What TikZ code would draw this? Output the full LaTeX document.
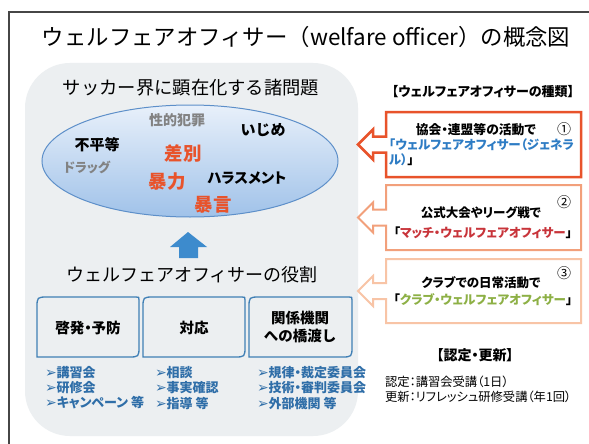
\documentclass[tikz,border=0pt]{standalone}
\usepackage{fontspec}
\setmainfont{Noto Sans CJK JP}
\newfontfamily\jpp{Noto Sans CJK JP}[RawFeature=+palt]
\newfontfamily\dvs{DejaVu Sans}
\newcommand\myfs[1]{\fontsize{#1}{#1}\selectfont}
\newcommand\bul{{\dvs\myfs{14}➢}}
\definecolor{bggray}{RGB}{236,239,241}
\definecolor{framec}{RGB}{70,70,70}
\definecolor{redc}{RGB}{232,83,43}
\definecolor{or2}{RGB}{242,160,123}
\definecolor{or3}{RGB}{248,196,166}
\definecolor{bluet}{RGB}{46,124,196}
\definecolor{crim}{RGB}{200,52,58}
\definecolor{greent}{RGB}{141,176,69}
\definecolor{listb}{RGB}{47,110,168}
\definecolor{boxb}{RGB}{63,127,181}
\definecolor{arrowb}{RGB}{61,139,205}
\definecolor{elltop}{RGB}{232,240,250}
\definecolor{ellbot}{RGB}{160,194,233}
\definecolor{ellbd}{RGB}{93,143,201}
\definecolor{grayt}{RGB}{130,130,130}
\tikzset{
  lbl/.style={inner sep=0pt, outer sep=0pt},
  rolebox/.style={draw=boxb, line width=1.3pt, fill=bggray},
  callout/.style={fill=white, line width=#1},
  listitem/.style={lbl, anchor=west, text=listb, font=\jpp\bfseries\myfs{13}},
}
\begin{document}
\begin{tikzpicture}[x=1pt,y=-1pt]
\useasboundingbox (0,0) rectangle (589,444);
\fill[white] (0,0) rectangle (589,444);
\draw[framec, line width=1.4pt] (9,444) -- (9,12) -- (589,12);
% title
\node[lbl] (title) at (306,37) {\myfs{22.4}ウェルフェアオフィサー（welfare officer）の概念図};
% grey panel
\fill[bggray, rounded corners=45pt] (25,63) rectangle (358,436);
\node[lbl] (sub1) at (191,88) {\myfs{18.3}サッカー界に顕在化する諸問題};
% ellipse
\shade[top color=elltop, bottom color=ellbot] (190,161) ellipse (148 and 56);
\draw[ellbd, line width=1pt] (190,161) ellipse (148 and 56);
\node[lbl, text=grayt] (e1) at (177,120) {\bfseries\myfs{14}性的犯罪};
\node[lbl] (e2) at (263,130) {\bfseries\myfs{15}いじめ};
\node[lbl] (e3) at (97,145) {\bfseries\myfs{15}不平等};
\node[lbl, text=grayt] (e4) at (87,167) {\jpp\bfseries\myfs{13}ドラッグ};
\node[lbl, text=redc] (e5) at (183,153) {\bfseries\myfs{18.5}差別};
\node[lbl, text=redc] (e6) at (167,182) {\bfseries\myfs{18.5}暴力};
\node[lbl] (e7) at (247,178) {\jpp\bfseries\myfs{14.5}ハラスメント};
\node[lbl, text=redc] (e8) at (213,205) {\bfseries\myfs{18.5}暴言};
% blue up arrow
\fill[arrowb] (188,232) -- (207,247) -- (198,247) -- (198,258) -- (179,258) -- (179,247) -- (170,247) -- cycle;
\node[lbl] (sub2) at (192,275) {\myfs{18}ウェルフェアオフィサーの役割};
% role boxes
\draw[rolebox] (37,357) -- (37,308) .. controls (37,297) .. (48,297) -- (136,297) .. controls (139,297) .. (139,300) -- (139,346) .. controls (139,357) .. (128,357) -- cycle;
\draw[rolebox] (143,357) -- (143,308) .. controls (143,297) .. (154,297) -- (242,297) .. controls (245,297) .. (245,300) -- (245,346) .. controls (245,357) .. (234,357) -- cycle;
\draw[rolebox] (249,357) -- (249,308) .. controls (249,297) .. (260,297) -- (349,297) .. controls (352,297) .. (352,300) -- (352,346) .. controls (352,357) .. (341,357) -- cycle;
\node[lbl] (r1) at (88,328) {\jpp\bfseries\myfs{14.5}啓発・予防};
\node[lbl] (r2) at (194,328) {\jpp\bfseries\myfs{14.5}対応};
\node[lbl, align=center] (r3) at (300,327) {\bfseries\myfs{14.5}関係機関\\[3pt]\bfseries\myfs{14.5}への橋渡し};
% lists
\node[listitem] (l11) at (45,373) {\bul 講習会};
\node[listitem] (l12) at (45,388) {\bul 研修会};
\node[listitem] (l13) at (45,403) {\bul キャンペーン 等};
\node[listitem] (l21) at (155,373) {\bul 相談};
\node[listitem] (l22) at (155,388) {\bul 事実確認};
\node[listitem] (l23) at (155,403) {\bul 指導 等};
\node[listitem] (l31) at (257,373) {\bul 規律・裁定委員会};
\node[listitem] (l32) at (257,388) {\bul 技術・審判委員会};
\node[listitem] (l33) at (257,403) {\bul 外部機関 等};
% right side
\node[lbl] (kinds) at (483,92) {\jpp\bfseries\myfs{13}【ウェルフェアオフィサーの種類】};
% callout 1
\draw[callout=2.5pt, draw=redc] (386,112) -- (581,112) -- (581,177) -- (386,177) -- (386,152.5) -- (373,152.5) -- (373,159.5) -- (358,144.5) -- (373,129.5) -- (373,136.5) -- (386,136.5) -- cycle;
\node[lbl] (c1a) at (476,130) {\jpp\bfseries\myfs{12.8}協会・連盟等の活動で};
\node[lbl] (c1n) at (564,129) {\myfs{14}①};
\node[lbl, anchor=west, text=bluet] (c1b) at (389,145) {\jpp\bfseries\myfs{12.5}「ウェルフェアオフィサー（ジェネラ};
\node[lbl, anchor=west] (c1c) at (389,160) {\jpp\bfseries\myfs{12.5}{\color{bluet}ル）}」};
% callout 2
\draw[callout=2pt, draw=or2] (386,185) -- (581,185) -- (581,250) -- (386,250) -- (386,225.5) -- (373,225.5) -- (373,232.5) -- (358,217.5) -- (373,202.5) -- (373,209.5) -- (386,209.5) -- cycle;
\node[lbl] (c2a) at (481,213) {\jpp\bfseries\myfs{12.5}公式大会やリーグ戦で};
\node[lbl] (c2n) at (564,202) {\myfs{14}②};
\node[lbl] (c2b) at (483,233) {\jpp\bfseries\myfs{12.5}「{\color{crim}マッチ・ウェルフェアオフィサー}」};
% callout 3
\draw[callout=2pt, draw=or3] (386,259) -- (581,259) -- (581,323) -- (386,323) -- (386,299) -- (373,299) -- (373,306) -- (358,291) -- (373,276) -- (373,283) -- (386,283) -- cycle;
\node[lbl] (c3a) at (481,283) {\jpp\bfseries\myfs{12.5}クラブでの日常活動で};
\node[lbl] (c3n) at (564,273) {\myfs{14}③};
\node[lbl] (c3b) at (483,300) {\jpp\bfseries\myfs{12.5}「{\color{greent}クラブ・ウェルフェアオフィサー}」};
% certification
\node[lbl] (cert) at (475,355) {\jpp\bfseries\myfs{14}【認定・更新】};
\node[lbl, anchor=west] (cert1) at (385,382) {\jpp\myfs{12.3}認定：講習会受講（1日）};
\node[lbl, anchor=west] (cert2) at (385,397) {\jpp\myfs{12.3}更新：リフレッシュ研修受講（年1回）};
\end{tikzpicture}
\end{document}
